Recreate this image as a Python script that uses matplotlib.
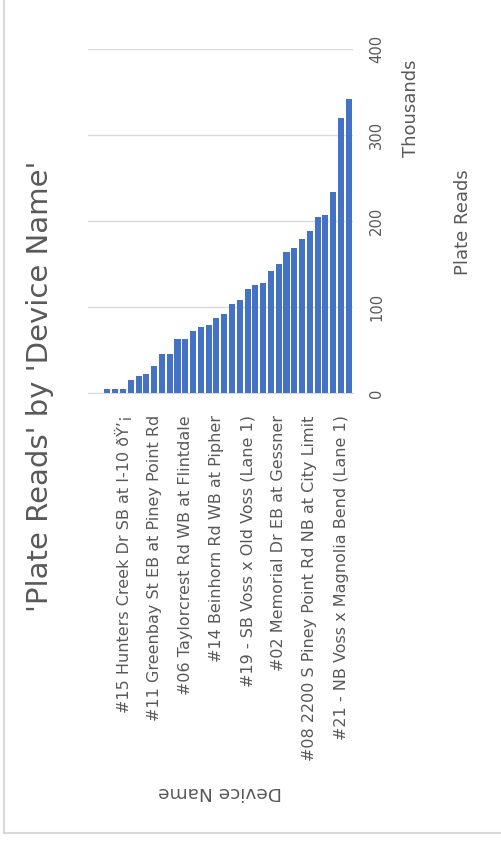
import numpy as np
import matplotlib.pyplot as plt
from matplotlib.lines import Line2D

# Data: plate reads (thousands) per device, sorted ascending
devices = [""] * 34
devices[4] = "#15 Hunters Creek Dr SB at I-10 ðŸ’¡"
devices[8] = "#11 Greenbay St EB at Piney Point Rd"
devices[12] = "#06 Taylorcrest Rd WB at Flintdale"
devices[16] = "#14 Beinhorn Rd WB at Pipher"
devices[20] = "#19 - SB Voss x Old Voss (Lane 1)"
devices[24] = "#02 Memorial Dr EB at Gessner"
devices[28] = "#08 2200 S Piney Point Rd NB at City Limit"
devices[32] = "#21 - NB Voss x Magnolia Bend (Lane 1)"

plate_reads = [0, 0, 4.7, 4.7, 4.7, 15.9, 20.2, 22.5, 31.4, 45.3, 45.3, 62.8,
               62.8, 72.1, 76.7, 79.1, 88.0, 92.2, 103.5, 108.1, 121.7, 126.0,
               128.3, 141.9, 150.8, 164.3, 169.0, 179.8, 189.1, 204.7, 207.0,
               234.1, 319.8, 342.2]

value_ticks = [0, 100, 200, 300, 400]

W, H = 501, 846
fig = plt.figure(figsize=(W / 100, H / 100), dpi=100)
grey = '#595959'
light = '#d9d9d9'

# chart border (cropped at top and right)
fig.add_artist(Line2D([3.5 / W, 3.5 / W], [1 - 833 / H, 1], color=light, lw=1.5))
fig.add_artist(Line2D([3.5 / W, 1], [1 - 833 / H, 1 - 833 / H], color=light, lw=1.5))

ax = fig.add_axes([88 / W, 1 - 393.3 / H, (352.7 - 88) / W, (393.3 - 49.3) / H])
x = np.arange(len(devices))
ax.bar(x, plate_reads, width=0.78, color='#4472C4', zorder=3)

ax.set_xlim(-0.5, len(devices) - 0.5)
ax.set_ylim(0, 400)
ax.set_xticks(x)
ax.set_xticklabels(devices, rotation=90, fontsize=11.5, color=grey)
ax.set_yticks(value_ticks)
ax.set_yticklabels([str(v) for v in value_ticks], rotation=90, va='center',
                   fontsize=10.6, color=grey)
ax.yaxis.tick_right()
ax.tick_params(axis='x', length=0, pad=15.8)
ax.tick_params(axis='y', length=0, pad=12)
ax.grid(axis='y', color=light, lw=1, zorder=0)
for s in ['top', 'left', 'right']:
    ax.spines[s].set_visible(False)
ax.spines['bottom'].set_color(light)

fig.text(40 / W, 1 - 386.5 / H, "'Plate Reads' by 'Device Name'", rotation=90,
         ha='center', va='center', fontsize=21, color=grey)
fig.text(220 / W, 1 - 792 / H, 'Device Name', rotation=180,
         ha='center', va='center', fontsize=13.3, color=grey)
fig.text(411 / W, 1 - 108 / H, 'Thousands', rotation=90,
         ha='center', va='center', fontsize=13, color=grey)
fig.text(463 / W, 1 - 222 / H, 'Plate Reads', rotation=90,
         ha='center', va='center', fontsize=13, color=grey)

fig.savefig('out.png', dpi=100)
